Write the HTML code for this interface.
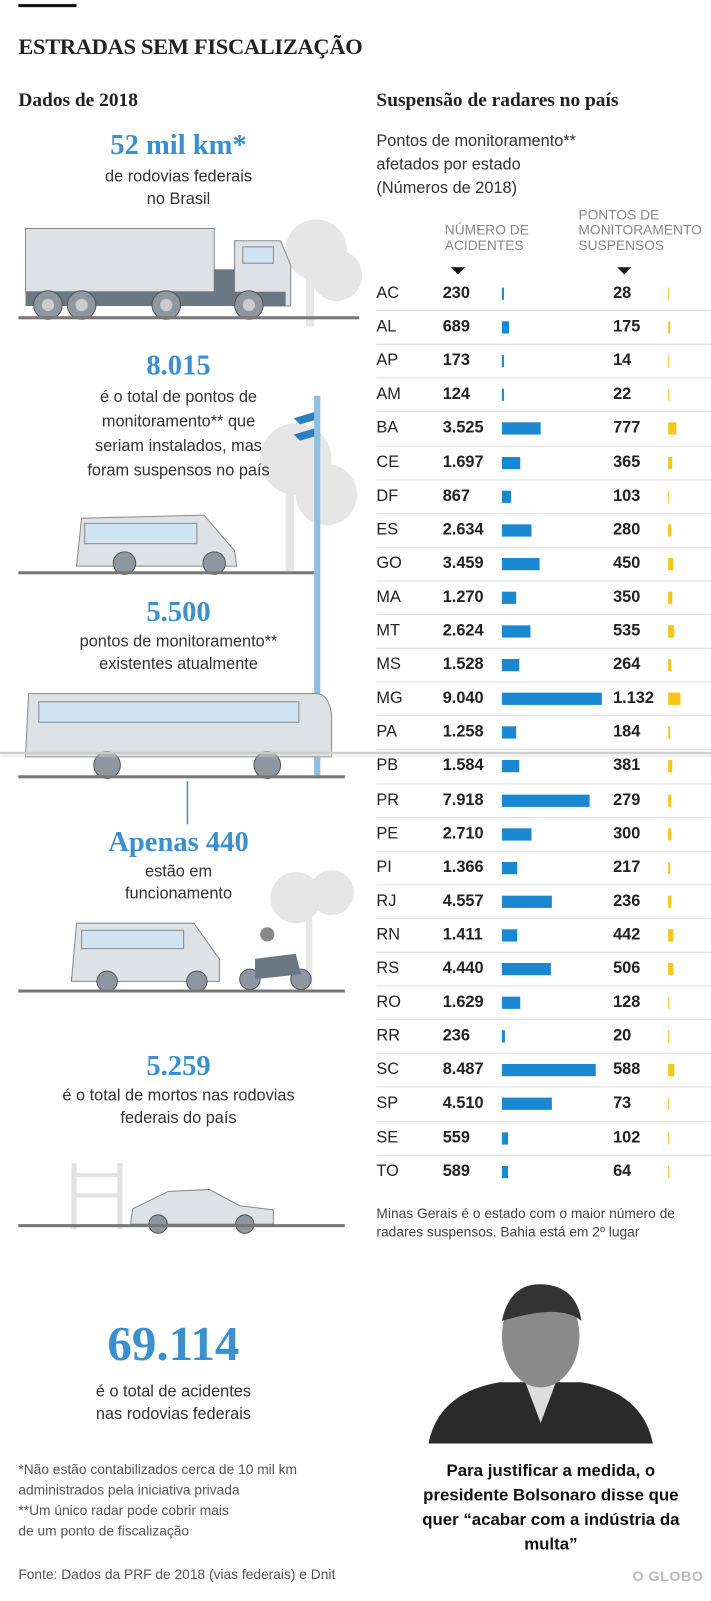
<!DOCTYPE html>
<html><head><meta charset="utf-8">
<style>
*{margin:0;padding:0;box-sizing:border-box}
body{width:711px;height:1600px;background:#fff;position:relative;overflow:hidden;font-family:"Liberation Sans",sans-serif;color:#222}
#wrap{position:absolute;left:0;top:0;width:697px;height:1569px;transform:scale(1.0201);transform-origin:0 0}
.a{position:absolute}
.serif{font-family:"Liberation Serif",serif}
.big{color:#3a8fd0;font-weight:bold;text-align:center;font-family:"Liberation Serif",serif}
.ctr{text-align:center;font-size:16px;line-height:22px;color:#333}
.row{position:absolute;left:369px;width:328px;height:33px;font-size:16px}
.row span{position:absolute;top:8px}
</style></head><body>
<div id="wrap">
<div class="a" style="left:18px;top:4px;width:57px;height:3px;background:#111"></div>
<div class="a serif" style="left:18px;top:33px;font-size:22px;font-weight:bold;letter-spacing:-0.3px">ESTRADAS SEM FISCALIZAÇÃO</div>
<div class="a serif" style="left:18px;top:88px;font-size:19px;font-weight:bold">Dados de 2018</div>
<div class="a serif" style="left:369px;top:88px;font-size:19px;font-weight:bold">Suspensão de radares no país</div>

<div class="a big" style="left:40px;width:270px;top:127px;font-size:28px">52 mil km*</div>
<div class="a ctr" style="left:40px;width:270px;top:163px">de rodovias federais<br>no Brasil</div>

<svg class="a" style="left:0;top:200px" width="360" height="600">
<g fill="#e6e6e6"><circle cx="310" cy="45" r="30"/><circle cx="330" cy="70" r="25"/><rect x="300" y="60" width="8" height="60"/><circle cx="290" cy="250" r="35"/><circle cx="320" cy="285" r="30"/><rect x="280" y="270" width="8" height="90"/></g>
<rect x="25" y="24" width="185" height="62" fill="#dde2e7" stroke="#888"/>
<rect x="210" y="64" width="25" height="28" fill="#6b7782"/>
<path d="M230 36 L275 36 L285 60 L285 100 L230 100Z" fill="#dde2e7" stroke="#888"/>
<rect x="238" y="42" width="30" height="16" fill="#cfe3f2" stroke="#888"/>
<rect x="25" y="86" width="255" height="14" fill="#6b7782"/>
<g fill="#8e979f" stroke="#555"><circle cx="47" cy="99" r="14"/><circle cx="80" cy="99" r="14"/><circle cx="163" cy="99" r="14"/><circle cx="244" cy="99" r="14"/></g>
<g fill="#ccc"><circle cx="47" cy="99" r="6"/><circle cx="80" cy="99" r="6"/><circle cx="163" cy="99" r="6"/><circle cx="244" cy="99" r="6"/></g>
<rect x="18" y="110" width="334" height="3" fill="#777"/>
<rect x="308" y="188" width="6" height="375" fill="#8dbfe2"/>
<path d="M288 210 l20 -6 l0 8 l-14 4z M288 226 l20 -6 l0 8 l-14 4z" fill="#2a7fc0"/>
<path d="M80 308 L200 305 L230 340 L232 355 L75 355 Z" fill="#dde2e7" stroke="#888"/>
<rect x="83" y="313" width="110" height="20" fill="#cfe3f2" stroke="#888"/>
<g fill="#8e979f" stroke="#555"><circle cx="122" cy="352" r="11"/><circle cx="210" cy="352" r="11"/></g>
<rect x="18" y="360" width="290" height="3" fill="#777"/>
</svg>

<div class="a big" style="left:40px;width:270px;top:343px;font-size:28px">8.015</div>
<div class="a ctr" style="left:40px;width:270px;top:378px;line-height:24px">é o total de pontos de<br>monitoramento** que<br>seriam instalados, mas<br>foram suspensos no país</div>

<div class="a big" style="left:40px;width:270px;top:585px;font-size:28px">5.500</div>
<div class="a ctr" style="left:40px;width:270px;top:619px">pontos de monitoramento**<br>existentes atualmente</div>

<svg class="a" style="left:0;top:670px" width="360" height="330">
<path d="M28 10 L310 10 Q322 10 325 30 L325 72 L25 72 Z" fill="#dde2e7" stroke="#888"/>
<rect x="38" y="18" width="255" height="20" fill="#cfe3f2" stroke="#888"/>
<g fill="#8e979f" stroke="#555"><circle cx="105" cy="80" r="13"/><circle cx="262" cy="80" r="13"/></g>
<rect x="18" y="90" width="320" height="3" fill="#777"/>
<rect x="183" y="96" width="1.5" height="42" fill="#3a8fd0"/>
<g fill="#e6e6e6"><circle cx="290" cy="210" r="25"/><circle cx="325" cy="205" r="22"/><rect x="300" y="215" width="6" height="85"/></g>
<path d="M75 235 L190 235 L215 270 L215 292 L70 292 Z" fill="#dde2e7" stroke="#888"/>
<rect x="80" y="242" width="100" height="18" fill="#cfe3f2" stroke="#888"/>
<g fill="#8e979f" stroke="#555"><circle cx="105" cy="292" r="10"/><circle cx="193" cy="292" r="10"/><circle cx="245" cy="290" r="10"/><circle cx="295" cy="290" r="10"/></g>
<path d="M250 270 l40 -5 l5 20 l-45 5z" fill="#6b7782"/><circle cx="262" cy="246" r="7" fill="#888"/>
<rect x="18" y="300" width="320" height="3" fill="#777"/>
</svg>
<div class="a" style="left:0;top:737px;width:711px;height:2px;background:#ccc;box-shadow:0 2px 3px #ddd"></div>

<div class="a big" style="left:40px;width:270px;top:810px;font-size:28px">Apenas 440</div>
<div class="a ctr" style="left:40px;width:270px;top:844px">estão em<br>funcionamento</div>

<div class="a big" style="left:40px;width:270px;top:1030px;font-size:28px">5.259</div>
<div class="a ctr" style="left:40px;width:270px;top:1064px">é o total de mortos nas rodovias<br>federais do país</div>

<svg class="a" style="left:0;top:1130px" width="360" height="80">
<g fill="#e2e2e2"><rect x="70" y="10" width="5" height="65"/><rect x="115" y="10" width="5" height="65"/><rect x="70" y="20" width="50" height="4"/><rect x="70" y="40" width="50" height="4"/></g>
<path d="M130 55 L165 38 L205 36 L235 52 L268 56 L268 70 L128 70 Z" fill="#dde2e7" stroke="#888"/>
<g fill="#8e979f" stroke="#555"><circle cx="155" cy="70" r="9"/><circle cx="240" cy="70" r="9"/></g>
<rect x="18" y="70" width="320" height="3" fill="#777"/>
</svg>

<div class="a" style="left:369px;top:127px;font-size:16px;line-height:23px;color:#333">Pontos de monitoramento**<br>afetados por estado<br>(Números de 2018)</div>
<div class="a" style="left:436px;top:218px;font-size:13.5px;line-height:15px;color:#888">NÚMERO DE<br>ACIDENTES</div>
<div class="a" style="left:567px;top:203px;font-size:13.5px;line-height:15px;color:#888">PONTOS DE<br>MONITORAMENTO<br>SUSPENSOS</div>
<div class="a" style="left:442px;top:262px;border-left:7px solid transparent;border-right:7px solid transparent;border-top:7px solid #111"></div>
<div class="a" style="left:605px;top:262px;border-left:7px solid transparent;border-right:7px solid transparent;border-top:7px solid #111"></div>
<div id="table"></div>

<div class="a" style="left:369px;top:1181px;font-size:13.5px;line-height:18px;color:#444">Minas Gerais é o estado com o maior número de<br>radares suspensos. Bahia está em 2º lugar</div>

<div class="a big" style="left:40px;width:260px;top:1290px;font-size:48px">69.114</div>
<div class="a ctr" style="left:40px;width:260px;top:1354px">é o total de acidentes<br>nas rodovias federais</div>

<svg class="a" style="left:420px;top:1255px" width="220" height="160">
<path d="M0 160 Q10 110 70 100 L150 100 Q210 110 220 160Z" fill="#2a2a2a"/>
<path d="M95 100 L110 140 L125 100Z" fill="#ddd"/>
<ellipse cx="110" cy="55" rx="38" ry="50" fill="#8a8a8a"/>
<path d="M72 40 Q80 2 112 4 Q145 6 150 40 Q130 22 72 40Z" fill="#333"/>
</svg>
<div class="a" style="left:395px;width:290px;top:1430px;text-align:center;font-size:16.5px;font-weight:bold;line-height:24px;color:#111">Para justificar a medida, o<br>presidente Bolsonaro disse que<br>quer “acabar com a indústria da<br>multa”</div>

<div class="a" style="left:18px;top:1431px;font-size:13.5px;line-height:20px;color:#555">*Não estão contabilizados cerca de 10 mil km<br>administrados pela iniciativa privada<br>**Um único radar pode cobrir mais<br>de um ponto de fiscalização</div>
<div class="a" style="left:18px;top:1536px;font-size:13.5px;color:#555">Fonte: Dados da PRF de 2018 (vias federais) e Dnit</div>
<div class="a" style="left:620px;top:1537px;font-size:14px;font-weight:bold;color:#bbb;letter-spacing:0.5px">O GLOBO</div>
</div>
<script>
const states=["AC","AL","AP","AM","BA","CE","DF","ES","GO","MA","MT","MS","MG","PA","PB","PR","PE","PI","RJ","RN","RS","RO","RR","SC","SP","SE","TO"];
const accidents=[230,689,173,124,3525,1697,867,2634,3459,1270,2624,1528,9040,1258,1584,7918,2710,1366,4557,1411,4440,1629,236,8487,4510,559,589];
const suspended=[28,175,14,22,777,365,103,280,450,350,535,264,1132,184,381,279,300,217,236,442,506,128,20,588,73,102,64];
function fmt(v){return v.toLocaleString('de-DE');}
function xA(v){return Math.max(2,v/9040*98);}
function xS(v){return Math.max(1,v/1132*12);}
const t=document.getElementById('wrap');
states.forEach((s,i)=>{
  const r=document.createElement('div');r.className='row';r.style.top=(271+i*33.1)+'px';
  
  
  if(i>0){const l=document.createElement('div');l.className='a';l.style.cssText='left:0;top:0;width:328px;height:1px;background:#ddd';
  
  r.appendChild(l);}
  const a=document.createElement('span');a.style.left='0';a.textContent=s;
  
  
  const n=document.createElement('span');n.style.cssText='left:65px;font-weight:bold';n.textContent=fmt(accidents[i]);
  
  
  const b=document.createElement('div');b.className='a';b.style.cssText='left:123px;top:11px;height:12px;background:#1a88d0;width:'+xA(accidents[i])+'px';
  
  
  const m=document.createElement('span');m.style.cssText='left:232px;font-weight:bold';m.textContent=fmt(suspended[i]);
  
  
  const c=document.createElement('div');c.className='a';c.style.cssText='left:286px;top:11px;height:12px;background:#f5c518;width:'+xS(suspended[i])+'px';
  
  
  r.append(a,n,b,m,c);t.appendChild(r);
});
</script>
</body></html>
